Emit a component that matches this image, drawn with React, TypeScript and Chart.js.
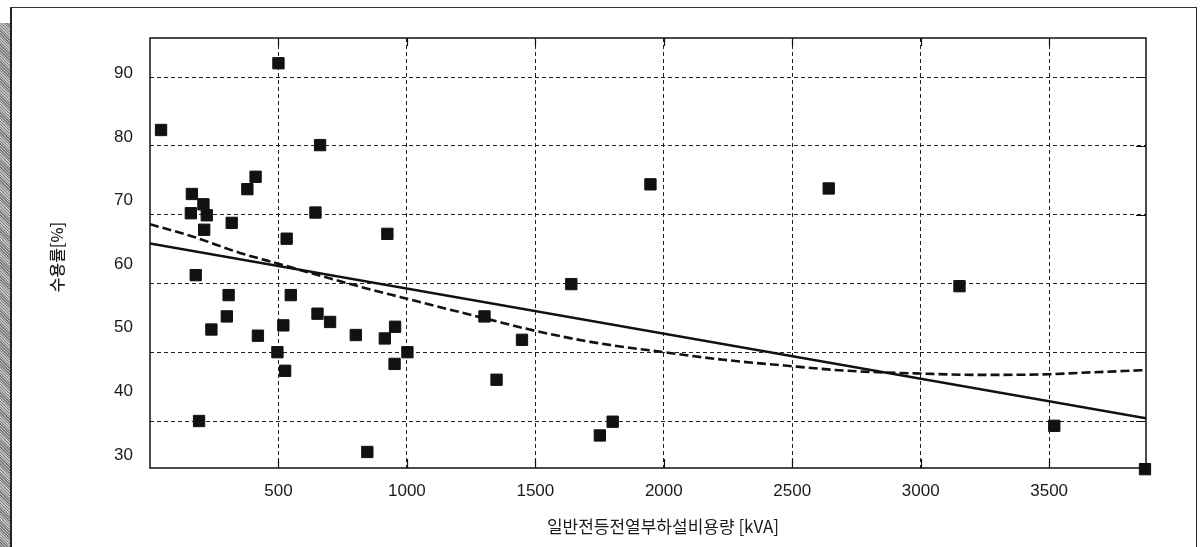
import React, { useEffect, useRef } from 'react';
import { Chart, registerables } from 'chart.js';

Chart.register(...registerables);

// Installed capacity of general lighting/outlet loads [kVA]
const capacityKVA = [
  43, 500, 662, 411, 379, 163, 159, 208, 221, 211, 318, 644, 532, 924, 178,
  306, 548, 299, 239, 420, 519, 496, 526, 652, 701, 801, 914, 954, 952, 191,
  846, 1640, 1302, 1448, 1349, 1002, 1801, 1751, 1948, 2642, 3151, 3520, 3873,
];
// Demand factor [%]
const demandFactor = [
  82.3, 92.0, 80.1, 75.5, 73.7, 73.0, 70.2, 71.5, 69.9, 67.8, 68.8, 70.3, 66.5, 67.2, 61.2,
  58.3, 58.3, 55.2, 53.3, 52.4, 53.9, 50.0, 47.3, 55.6, 54.4, 52.5, 52.0, 53.7, 48.3, 40.0,
  35.5, 59.9, 55.2, 51.8, 46.0, 50.0, 39.9, 37.9, 74.4, 73.8, 59.6, 39.3, 33.0,
];

// Linear trend (solid)
const trendX = [0, 3877];
const trendY = [65.8, 40.4];

// Curved fit (dashed)
const fitX = [0, 159, 353, 496, 665, 820, 976, 1092, 1326, 1501, 1715, 2000, 2233, 2519, 2713, 2998, 3232, 3500, 3621, 3877];
const fitY = [68.6, 66.9, 64.4, 62.9, 61.1, 59.5, 58.0, 56.9, 54.7, 53.1, 51.5, 50.0, 48.9, 47.9, 47.3, 46.9, 46.7, 46.8, 47.0, 47.4];

const xTickValues = [500, 1000, 1500, 2000, 2500, 3000, 3500];
const gridValues = [40, 50, 60, 70, 80, 90];
const yLabelValues = [30, 40, 50, 60, 70, 80, 90];

const xTitle = '일반전등전열부하설비용량 [kVA]';
const yTitle = '수용률[%]';

const INK = '#111';
const TICK_FONT = { family: '"Liberation Sans", Arial, sans-serif', size: 17 };

const framePlugin = {
  id: 'frameAndTitles',
  afterDraw(chart: any) {
    const { ctx, chartArea: a, scales } = chart;
    ctx.save();
    ctx.setLineDash([]);
    ctx.strokeStyle = INK;
    ctx.lineWidth = 1.5;
    ctx.strokeRect(a.left, a.top, a.right - a.left, a.bottom - a.top);
    ctx.lineWidth = 1.2;
    ctx.beginPath();
    for (const v of xTickValues) {
      const px = Math.round(scales.x.getPixelForValue(v)) + 0.5;
      ctx.moveTo(px, a.bottom);
      ctx.lineTo(px, a.bottom - 9);
      ctx.moveTo(px, a.top);
      ctx.lineTo(px, a.top + 8);
    }
    for (const v of gridValues) {
      const py = Math.round(scales.y.getPixelForValue(v)) + 0.5;
      ctx.moveTo(a.right, py);
      ctx.lineTo(a.right - 10, py);
    }
    ctx.stroke();

    ctx.fillStyle = '#1a1a1a';
    ctx.textAlign = 'center';
    ctx.textBaseline = 'middle';
    ctx.font = '17px "Noto Sans CJK KR", sans-serif';
    ctx.fillText(xTitle, (a.left + a.right) / 2 + 15, a.bottom + 59);
    ctx.translate(57, (a.top + a.bottom) / 2 + 4);
    ctx.rotate(-Math.PI / 2);
    ctx.font = '500 16px "Noto Sans CJK KR", sans-serif';
    ctx.fillText(yTitle, 0, 0);
    ctx.restore();
  },
};

export default function App() {
  const canvasRef = useRef<HTMLCanvasElement>(null);

  useEffect(() => {
    const canvas = canvasRef.current;
    if (!canvas) return;
    const chart = new Chart(canvas, {
      type: 'scatter',
      data: {
        datasets: [
          {
            label: 'data',
            data: capacityKVA.map((x, i) => ({ x, y: demandFactor[i] })),
            pointStyle: 'rect',
            pointRadius: 8,
            pointBorderWidth: 1,
            backgroundColor: INK,
            borderColor: INK,
            showLine: false,
            clip: false as any,
            yAxisID: 'y',
          },
          {
            label: 'trend',
            data: trendX.map((x, i) => ({ x, y: trendY[i] })),
            showLine: true,
            pointRadius: 0,
            borderColor: INK,
            borderWidth: 2.4,
            yAxisID: 'y',
          },
          {
            label: 'fit',
            data: fitX.map((x, i) => ({ x, y: fitY[i] })),
            showLine: true,
            pointRadius: 0,
            borderColor: INK,
            borderWidth: 2.6,
            borderDash: [9, 4],
            cubicInterpolationMode: 'monotone',
            yAxisID: 'y',
          },
        ],
      },
      options: {
        animation: false,
        responsive: false,
        devicePixelRatio: 1,
        events: [],
        layout: { padding: { left: 0, top: 38, right: 57, bottom: 19 } },
        plugins: {
          legend: { display: false },
          tooltip: { enabled: false },
          title: { display: false },
        },
        scales: {
          x: {
            type: 'linear',
            position: 'bottom',
            min: 0,
            max: 3877,
            afterBuildTicks: (axis: any) => {
              axis.ticks = xTickValues.map((v) => ({ value: v }));
            },
            afterFit: (axis: any) => {
              axis.height = 60;
            },
            ticks: {
              autoSkip: false,
              maxRotation: 0,
              padding: 13,
              color: '#1a1a1a',
              font: TICK_FONT,
              callback: (v: any) => String(v),
            },
            grid: { color: '#222', lineWidth: 1, drawTicks: false },
            border: { display: false, dash: [4, 3] },
          },
          yl: {
            type: 'linear',
            axis: 'y',
            position: 'left',
            min: 27.96,
            max: 95.55,
            afterBuildTicks: (axis: any) => {
              axis.ticks = yLabelValues.map((v) => ({ value: v }));
            },
            afterFit: (axis: any) => {
              axis.width = 150;
            },
            ticks: { padding: 17, color: '#1a1a1a', font: TICK_FONT, callback: (v: any) => String(v) },
            grid: { display: false, drawTicks: false },
            border: { display: false },
          },
          y: {
            type: 'linear',
            position: 'left',
            min: 33.17,
            max: 95.67,
            afterBuildTicks: (axis: any) => {
              axis.ticks = gridValues.map((v) => ({ value: v }));
            },
            afterFit: (axis: any) => {
              axis.width = 0;
            },
            ticks: { display: false },
            grid: { color: '#222', lineWidth: 1, drawTicks: false },
            border: { display: false, dash: [4, 3] },
          },
        },
      } as any,
      plugins: [framePlugin],
    });
    return () => chart.destroy();
  }, []);

  return (
    <div
      style={{
        position: 'absolute',
        left: 0,
        top: 0,
        width: 1203,
        height: 547,
        overflow: 'hidden',
        background: '#fff',
      }}
    >
      <div
        style={{
          position: 'absolute',
          left: 0,
          top: 23,
          width: 10,
          height: 540,
          background: 'repeating-linear-gradient(45deg, #7a7a7a 0px, #7a7a7a 1px, #c4c4c4 1px, #c4c4c4 2px)',
        }}
      />
      <div
        style={{
          position: 'absolute',
          left: 10,
          top: 7,
          width: 1187,
          height: 600,
          borderTop: '1px solid #333',
          borderLeft: '2px solid #222',
          borderRight: '1.5px solid #222',
          boxSizing: 'border-box',
        }}
      />
      <canvas
        ref={canvasRef}
        width={1203}
        height={547}
        style={{ position: 'absolute', left: 0, top: 0, width: 1203, height: 547 }}
      />
    </div>
  );
}
